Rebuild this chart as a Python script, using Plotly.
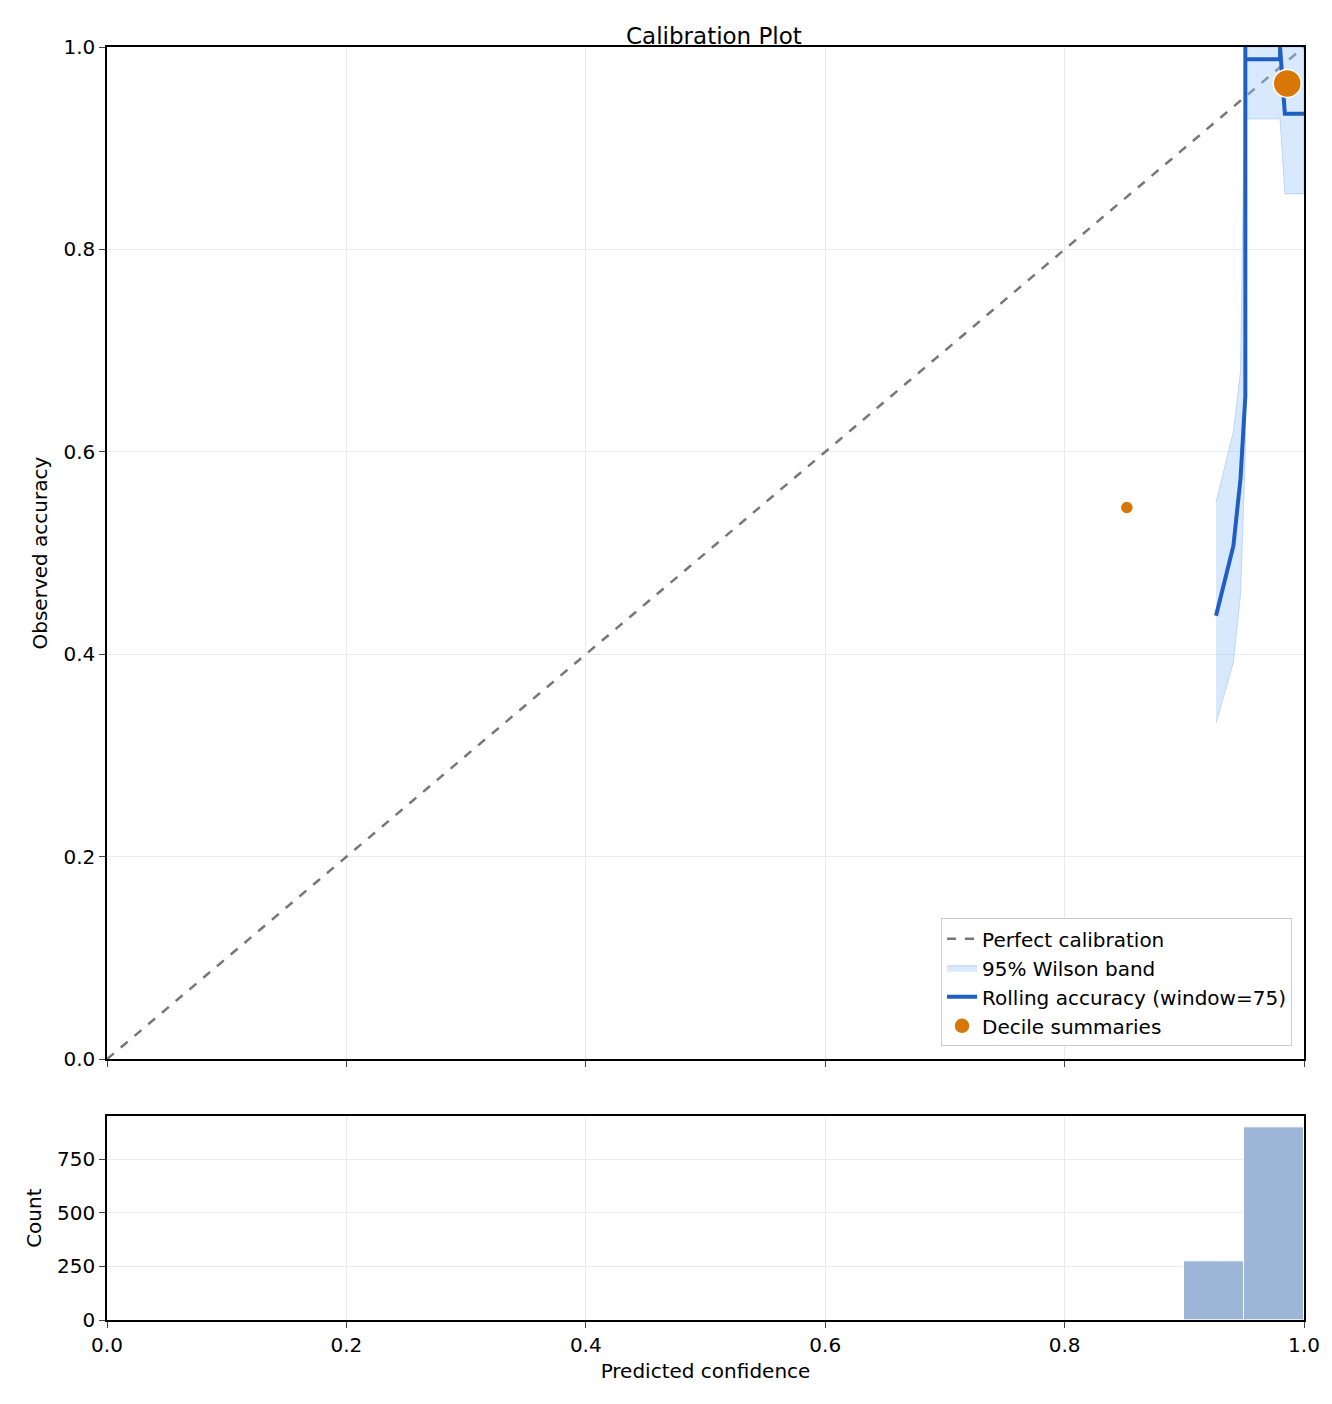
import plotly.graph_objects as go
from plotly.subplots import make_subplots

diag = [0.0, 1.0]
roll_x = [0.9265, 0.941, 0.947, 0.951, 0.951, 0.951, 0.98, 0.98, 0.984, 1.0]
roll_y = [0.438, 0.507, 0.574, 0.655, 1.0, 0.988, 0.988, 1.0, 0.934, 0.934]
band_up_x = [0.9265, 0.941, 0.947, 0.951, 1.0]
band_up_y = [0.55, 0.62, 0.68, 1.0, 1.0]
band_lo_x = [0.9265, 0.941, 0.947, 0.951, 0.951, 0.98, 0.984, 1.0]
band_lo_y = [0.332, 0.392, 0.46, 0.60, 0.929, 0.929, 0.855, 0.855]
dec_x = [0.852, 0.986]
dec_y = [0.545, 0.964]
dec_size = [13, 28]
hist_x = [0.925, 0.975]
hist_count = [275, 899]

font = dict(family="DejaVu Sans", size=20, color="black")
fig = make_subplots(rows=2, cols=1, shared_xaxes=False, row_heights=[0.83, 0.17], vertical_spacing=0.04)
fig.add_trace(go.Scatter(x=diag, y=diag, mode="lines", line=dict(color="#777777", width=2.5, dash="dash"),
                         name="Perfect calibration"), 1, 1)
fig.add_trace(go.Scatter(x=band_up_x + band_lo_x[::-1], y=band_up_y + band_lo_y[::-1], fill="toself",
                         fillcolor="rgba(160,200,250,0.4)", line=dict(color="rgba(140,185,245,0.5)", width=1),
                         mode="lines", name="95% Wilson band"), 1, 1)
fig.add_trace(go.Scatter(x=roll_x, y=roll_y, mode="lines", line=dict(color="#1f5fc4", width=4),
                         name="Rolling accuracy (window=75)"), 1, 1)
fig.add_trace(go.Scatter(x=dec_x, y=dec_y, mode="markers",
                         marker=dict(color="#d97706", size=dec_size, opacity=1, line=dict(color="white", width=1.5)),
                         name="Decile summaries", cliponaxis=False), 1, 1)
fig.add_trace(go.Bar(x=hist_x, y=hist_count, width=0.05, marker=dict(color="#9db5d6", line=dict(color="white", width=1)),
                     showlegend=False), 2, 1)

ax = dict(showline=True, linecolor="black", linewidth=1.5, mirror=True, ticks="outside", ticklen=6,
          showgrid=True, gridcolor="#ebebeb", zeroline=False, tickfont=font)
fig.update_xaxes(**ax, range=[0, 1], dtick=0.2, tickformat=".1f")
fig.update_xaxes(showticklabels=False, row=1, col=1)
fig.update_xaxes(title=dict(text="Predicted confidence", font=font, standoff=8), row=2, col=1)
fig.update_yaxes(**ax)
fig.update_yaxes(range=[0, 1], dtick=0.2, tickformat=".1f", title=dict(text="Observed accuracy", font=font, standoff=10), row=1, col=1)
fig.update_yaxes(range=[0, 950], tickvals=[0, 250, 500, 750], title=dict(text="Count", font=font, standoff=10), row=2, col=1)
fig.update_layout(
    width=1332, height=1404, margin=dict(l=99, r=36, t=39, b=92),
    plot_bgcolor="white", paper_bgcolor="white", font=font,
    title=dict(text="Calibration Plot", x=0.53, xanchor="center", y=0.986, font=dict(family="DejaVu Sans", size=23)),
    legend=dict(x=0.99, y=0.215, xanchor="right", yanchor="bottom", bgcolor="white",
                bordercolor="#cccccc", borderwidth=1, font=dict(family="DejaVu Sans", size=20)),
    bargap=0,
)
fig.layout.yaxis.domain = [0.2049, 1.0]
fig.layout.yaxis2.domain = [0.0, 0.160]
fig.write_html("out.html")
